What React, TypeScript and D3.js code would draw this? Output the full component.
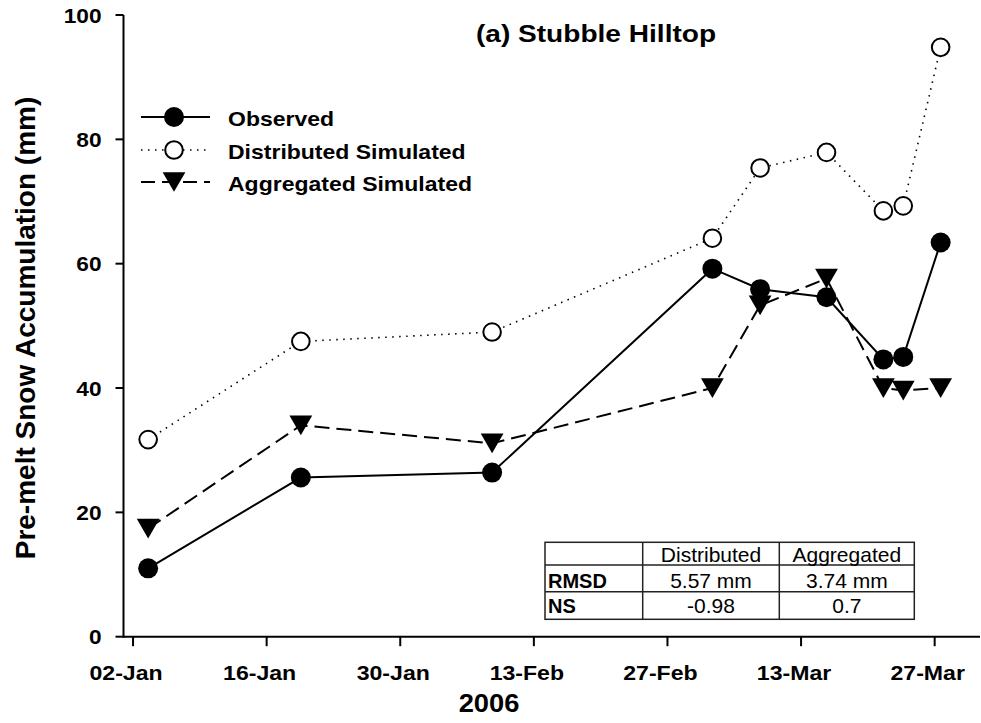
import * as React from 'react'
import * as d3 from 'd3'

// survey dates (time of day)
const sampleDates = [
  '2006-01-03 14',
  '2006-01-19 14',
  '2006-02-08 15',
  '2006-03-03 17',
  '2006-03-08 17',
  '2006-03-15 16',
  '2006-03-21 15',
  '2006-03-23 17',
  '2006-03-27 15',
]
const observed = [11.0, 25.6, 26.4, 59.2, 55.9, 54.6, 44.6, 45.0, 63.4]
const distributed = [31.7, 47.5, 49.0, 64.1, 75.4, 77.9, 68.5, 69.3, 94.8]
const aggregated = [17.4, 34.0, 31.1, 40.0, 53.3, 57.6, 40.0, 39.6, 40.0]

const xTickDates = ['2006-01-02', '2006-01-16', '2006-01-30', '2006-02-13', '2006-02-27', '2006-03-13', '2006-03-27']
const yTicks = [0, 20, 40, 60, 80, 100]

const tableHeader = ['', 'Distributed', 'Aggregated']
const tableRows = [
  ['RMSD', '5.57 mm', '3.74 mm'],
  ['NS', '-0.98', '0.7'],
]

const FONT = '"Liberation Sans", Arial, Helvetica, sans-serif'
const W = 981
const H = 723

const parseSample = d3.timeParse('%Y-%m-%d %H')
const parseDay = d3.timeParse('%Y-%m-%d')
const fmtTick = d3.timeFormat('%d-%b')

type TxtProps = {
  x: number
  y: number
  size: number
  sx?: number
  weight?: string
  anchor?: 'start' | 'middle' | 'end'
  children: React.ReactNode
}

function Txt({ x, y, size, sx = 1, weight = 'bold', anchor = 'start', children }: TxtProps) {
  return (
    <text
      transform={`translate(${x},${y}) scale(${sx},1)`}
      fontFamily={FONT}
      fontSize={size}
      fontWeight={weight}
      textAnchor={anchor}
      fill="#000"
    >
      {children}
    </text>
  )
}

const triPath = d3.symbol(d3.symbolTriangle, 225)()
const triH = Math.sqrt((225 * 4) / Math.sqrt(3)) * (Math.sqrt(3) / 2)

function Triangle({ x, y }: { x: number; y: number }) {
  return <path d={triPath ?? ''} transform={`translate(${x},${y - triH / 6}) rotate(180)`} fill="#000" />
}

export default function App() {
  const dates = sampleDates.map((d) => parseSample(d) as Date)

  const x = d3
    .scaleTime()
    .domain([parseSample('2006-01-01 00') as Date, parseSample('2006-03-31 18') as Date])
    .range([123.5, 980])
  const y = d3.scaleLinear().domain([0, 100]).range([636.7, 15])

  const line = d3
    .line<[Date, number]>()
    .x((d) => x(d[0]))
    .y((d) => y(d[1]))

  const pts = (vals: number[]) => vals.map((v, i) => [dates[i], v] as [Date, number])

  // legend layout
  const legX0 = 141
  const legX1 = 210
  const legSym = 174
  const legText = 228
  const legRows = [117, 150, 182]

  // table layout
  const tLeft = 545
  const tRight = 914.3
  const colX = [tLeft, 642.7, 779.3, tRight]
  const rowY = [542.3, 565, 591.7, 619.3]
  const baselines = [561.5, 588, 613]

  return (
    <svg width={W} height={H} style={{ position: 'absolute', left: 0, top: 0, background: '#fff' }}>
      <rect width={W} height={H} fill="#fff" />

      {/* title */}
      <Txt x={596} y={41.7} size={24} sx={1.17} anchor="middle">
        (a) Stubble Hilltop
      </Txt>

      {/* axes */}
      <line x1={x.range()[0]} x2={x.range()[1]} y1={y(0)} y2={y(0)} stroke="#000" strokeWidth={2} />
      <line x1={x.range()[0]} x2={x.range()[0]} y1={y(0) + 1} y2={y(100)} stroke="#000" strokeWidth={2} />

      {yTicks.map((t) => (
        <g key={t}>
          <line x1={115.5} x2={x.range()[0]} y1={y(t)} y2={y(t)} stroke="#000" strokeWidth={2} />
          <Txt x={101.5} y={y(t) + 7.5} size={21} sx={1.08} anchor="end">
            {t}
          </Txt>
        </g>
      ))}

      {xTickDates.map((s) => {
        const d = parseDay(s) as Date
        const px = x(d)
        return (
          <g key={s}>
            <line x1={px} x2={px} y1={y(0)} y2={y(0) + 9.5} stroke="#000" strokeWidth={2} />
            <Txt x={px - 7} y={680} size={21} sx={1.1} anchor="middle">
              {fmtTick(d)}
            </Txt>
          </g>
        )
      })}

      <Txt x={489} y={711.5} size={26} sx={1.05} anchor="middle">
        2006
      </Txt>

      {/* y axis title */}
      <text
        transform="translate(35,328) rotate(-90)"
        fontFamily={FONT}
        fontSize={28}
        fontWeight="bold"
        textAnchor="middle"
      >
        Pre-melt Snow Accumulation (mm)
      </text>

      {/* series lines */}
      <path d={line(pts(distributed)) ?? ''} fill="none" stroke="#000" strokeWidth={1.6} strokeDasharray="1.5 5.5" />
      <path d={line(pts(aggregated)) ?? ''} fill="none" stroke="#000" strokeWidth={2} strokeDasharray="15 7" />
      <path d={line(pts(observed)) ?? ''} fill="none" stroke="#000" strokeWidth={2} />

      {/* markers */}
      {distributed.map((v, i) => (
        <circle key={'d' + i} cx={x(dates[i])} cy={y(v)} r={8.8} fill="#fff" stroke="#000" strokeWidth={2} />
      ))}
      {aggregated.map((v, i) => (
        <Triangle key={'a' + i} x={x(dates[i])} y={y(v)} />
      ))}
      {observed.map((v, i) => (
        <circle key={'o' + i} cx={x(dates[i])} cy={y(v)} r={10} fill="#000" />
      ))}

      {/* legend */}
      <line x1={legX0} x2={legX1} y1={legRows[0]} y2={legRows[0]} stroke="#000" strokeWidth={2} />
      <circle cx={legSym} cy={legRows[0]} r={10} fill="#000" />
      <Txt x={legText} y={legRows[0] + 8.5} size={20} sx={1.15}>
        Observed
      </Txt>

      <line x1={legX0} x2={legX1} y1={legRows[1]} y2={legRows[1]} stroke="#000" strokeWidth={1.6} strokeDasharray="1.5 5.5" />
      <circle cx={legSym} cy={legRows[1]} r={8.8} fill="#fff" stroke="#000" strokeWidth={2} />
      <Txt x={legText} y={legRows[1] + 8.5} size={20} sx={1.15}>
        Distributed Simulated
      </Txt>

      <line x1={legX0} x2={legX1} y1={legRows[2]} y2={legRows[2]} stroke="#000" strokeWidth={2} strokeDasharray="14 7" />
      <Triangle x={legSym} y={legRows[2]} />
      <Txt x={legText} y={legRows[2] + 8.5} size={20} sx={1.15}>
        Aggregated Simulated
      </Txt>

      {/* statistics table */}
      <g stroke="#222" strokeWidth={1.5} fill="none">
        <rect x={tLeft} y={rowY[0]} width={tRight - tLeft} height={rowY[3] - rowY[0]} />
        <line x1={tLeft} x2={tRight} y1={rowY[1]} y2={rowY[1]} />
        <line x1={tLeft} x2={tRight} y1={rowY[2]} y2={rowY[2]} />
        <line x1={colX[1]} x2={colX[1]} y1={rowY[0]} y2={rowY[3]} />
        <line x1={colX[2]} x2={colX[2]} y1={rowY[0]} y2={rowY[3]} />
      </g>
      {tableHeader.map((h, j) =>
        j === 0 ? null : (
          <Txt key={h} x={(colX[j] + colX[j + 1]) / 2} y={baselines[0]} size={21} weight="normal" anchor="middle">
            {h}
          </Txt>
        ),
      )}
      {tableRows.map((row, i) =>
        row.map((cell, j) =>
          j === 0 ? (
            <Txt key={cell} x={tLeft + 3} y={baselines[i + 1]} size={20} weight="bold">
              {cell}
            </Txt>
          ) : (
            <Txt key={cell + j} x={(colX[j] + colX[j + 1]) / 2} y={baselines[i + 1]} size={21} weight="normal" anchor="middle">
              {cell}
            </Txt>
          ),
        ),
      )}
    </svg>
  )
}
